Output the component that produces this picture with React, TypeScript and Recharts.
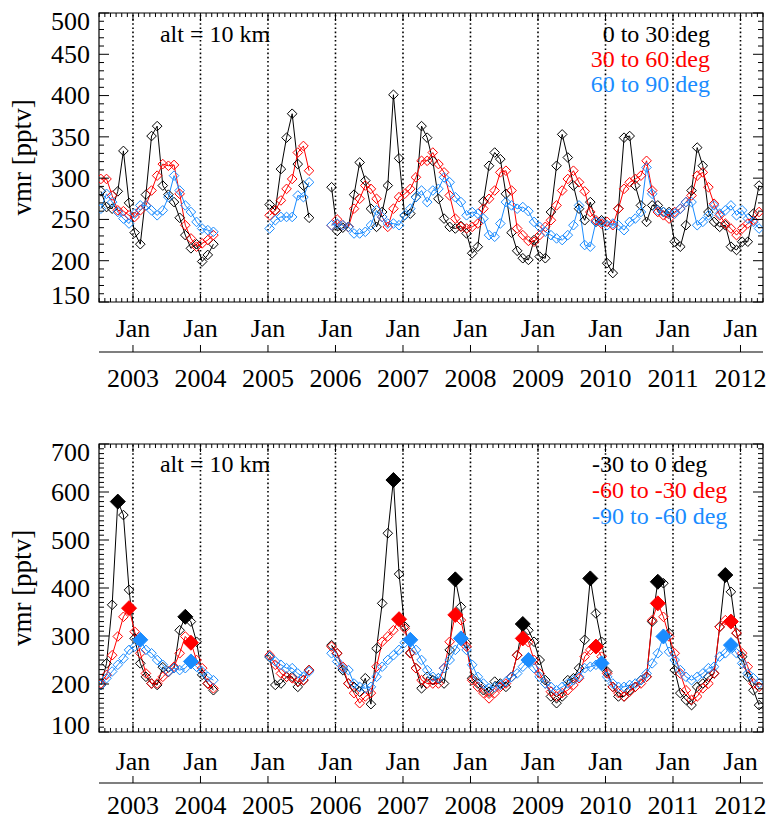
import React from "react";
import { ComposedChart, Line, XAxis, YAxis, ReferenceLine, ReferenceArea } from "recharts";

const FONT = '"Times New Roman", "Liberation Serif", Times, serif';
const BLACK = "#000000";
const RED = "#ff0000";
const BLUE = "#1a8cff";

// months are counted from Jan 2003; the first sample is Jul 2002
const FIRST_MONTH = -6;
const X_DOMAIN: [number, number] = [-6.04, 112];
const janMonths = [0, 12, 24, 36, 48, 60, 72, 84, 96, 108];
const yearLabels = ["2003", "2004", "2005", "2006", "2007", "2008", "2009", "2010", "2011", "2012"];
const monthLabel = "Jan";

const northTicks = [150, 200, 250, 300, 350, 400, 450, 500];
const southTicks = [100, 200, 300, 400, 500, 600, 700];

// northern hemisphere, monthly means (pptv), Jul 2002 .. Apr 2012
const north0to30 = [
  284, 265, 263, 284, 333, 270, 234, 220, 280, 351, 363, 291, 280, 271, 252, 231, 215, 220, 199, 207, 220,
  null, null, null, null, null, null, null, null, null,
  268, 261, 311, 349, 378, 317, 291, 252,
  null, null, null,
  289, 236, 240, 241, 280, 319, 297, 263, 241, 259, 291, 401, 324, 255, 257, 277, 363, 349, 321, 275, 251, 241, 239, 242, 233, 209, 217, 272, 315, 331, 323, 281, 234, 212, 203, 201,
  225, 205, 203, 259, 315, 353, 325, 291, 263, 249, 271, 247, 249, 197, 185, 263, 349, 351, 291, 267, 247, 267, 267, 259, 259, 223, 217, 243, 285, 337, 315, 259, 247, 241, 243, 217, 213, 223, 223, 257, 291,
];
const north30to60 = [
  299, 299, 279, 261, 260, 255, 253, 261, 267, 285, 303, 317, 315, 316, 281, 243, 227, 217, 221, 225, 231,
  null, null, null, null, null, null, null, null, null,
  255, 261, 273, 287, 299, 331, 339, 309,
  null, null, null,
  243, 250, 243, 241, 263, 275, 291, 287, 275, 253, 241, 263, 277, 281, 287, 301, 321, 321, 331, 317, 307, 279, 251, 241, 239, 241, 245, 263, 275, 285, 307, 309, 285, 239, 231, 224,
  223, 231, 241, 249, 267, 285, 299, 309, 295, 284, 259, 249, 245, 247, 243, 263, 287, 295, 299, 303, 321, 285, 259, 255, 251, 259, 263, 271, 279, 303, 307, 289, 269, 255, 245, 239, 231, 239, 245, 249, 259,
];
const north60to90 = [
  263, 281, 271, 259, 251, 245, 257, 267, 267, 261, 255, 261, 277, 303, 285, 267, 259, 247, 239, 237, 235,
  null, null, null, null, null, null, null, null, null,
  239, 249, 253, 253, 253, 279, 277, 295,
  null, null, null,
  243, 245, 243, 241, 233, 233, 235, 243, 261, 253, 245, 245, 243, 255, 263, 277, 285, 271, 285, 287, 301, 295, 277, 271, 255, 259, 257, 251, 231, 229, 245, 271, 267, 263, 265, 260,
  247, 241, 235, 231, 227, 225, 231, 243, 267, 219, 217, 247, 247, 243, 245, 243, 237, 247, 251, 259, 313, 281, 261, 259, 257, 257, 263, 271, 271, 243, 247, 255, 267, 257, 261, 267, 255, 261, 251, 247, 239,
];

// southern hemisphere
const south30to0 = [
  198, 243, 365, 580, 552, 396, 295, 243, 215, 201, 198, 235, 225, 233, 312, 340, 330, 288, 219, 201, 187,
  null, null, null, null, null, null, null, null, null,
  256, 198, 201, 215, 215, 194, 208, 229,
  null, null, null,
  281, 264, 229, 201, 194, 184, 212, 158, 274, 368, 514, 625, 429, 320, 265, 233, 191, 215, 208, 212, 201, 271, 418, 361, 285, 212, 201, 187, 184, 205, 201, 194, 215, 260, 325, 312,
  288, 250, 208, 174, 160, 174, 208, 212, 233, 292, 420, 347, 288, 226, 194, 174, 174, 187, 194, 208, 215, 330, 413, 410, 306, 229, 181, 167, 156, 194, 201, 215, 222, 319, 427, 392, 306, 257, 215, 187, 156,
];
const south60to30 = [
  201, 219, 260, 299, 340, 358, 309, 264, 222, 201, 201, 215, 226, 236, 264, 299, 286, 250, 233, 201, 191,
  null, null, null, null, null, null, null, null, null,
  260, 240, 222, 215, 212, 205, 208, 229,
  null, null, null,
  278, 264, 236, 201, 181, 160, 174, 181, 236, 288, 299, 312, 335, 316, 264, 233, 208, 201, 201, 201, 233, 288, 344, 333, 278, 208, 194, 181, 170, 181, 194, 201, 215, 260, 295, 287,
  250, 222, 201, 184, 174, 181, 187, 198, 212, 257, 271, 278, 257, 222, 194, 181, 174, 184, 194, 201, 215, 333, 368, 340, 299, 264, 222, 187, 167, 174, 191, 201, 222, 319, 333, 330, 306, 264, 236, 201, 194,
];
const south90to60 = [
  198, 212, 226, 240, 253, 271, 278, 292, 271, 264, 250, 240, 226, 233, 229, 233, 247, 236, 226, 215, 208,
  null, null, null, null, null, null, null, null, null,
  257, 247, 240, 233, 233, 222, 215, 226,
  null, null, null,
  264, 247, 233, 229, 201, 194, 191, 194, 215, 236, 250, 260, 271, 286, 292, 271, 250, 229, 215, 212, 233, 250, 271, 295, 271, 240, 215, 201, 191, 194, 198, 205, 215, 222, 236, 250,
  233, 215, 201, 194, 187, 194, 201, 208, 215, 233, 236, 240, 243, 215, 201, 194, 194, 198, 201, 208, 222, 243, 264, 299, 267, 250, 229, 215, 208, 215, 222, 233, 236, 257, 264, 281, 264, 243, 222, 212, 201,
];

// months whose value is drawn as a filled diamond (seasonal maxima)
const southPeaks30to0 = [-3, 9, 46, 57, 69, 81, 93, 105];
const southPeaks60to30 = [-1, 10, 47, 57, 69, 82, 93, 106];
const southPeaks90to60 = [1, 10, 49, 58, 70, 83, 94, 106];

const northLegend = ["0 to 30 deg", "30 to 60 deg", "60 to 90 deg"];
const southLegend = ["-30 to 0 deg", "-60 to -30 deg", "-90 to -60 deg"];
const altLabel = "alt = 10 km";
const yTitle = "vmr [pptv]";

type Num = number | null;

function buildRows(black: Num[], red: Num[], blue: Num[], peaks?: number[][]) {
  return black.map((_, i) => {
    const m = FIRST_MONTH + i;
    const pick = (arr: Num[], k: number) => (peaks && peaks[k].includes(m) ? arr[i] : null);
    return {
      x: m + 0.3,
      black: black[i],
      red: red[i],
      blue: blue[i],
      blackPk: pick(black, 0),
      redPk: pick(red, 1),
      bluePk: pick(blue, 2),
    };
  });
}

const northRows = buildRows(north0to30, north30to60, north60to90);
const southRows = buildRows(south30to0, south60to30, south90to60, [southPeaks30to0, southPeaks60to30, southPeaks90to60]);

const monthTicks: number[] = [];
for (let m = -6; m <= 112; m++) monthTicks.push(m);

function diamond(color: string, r: number, filled: boolean) {
  return (props: any) => {
    const { cx, cy, value, index } = props;
    if (value == null || cx == null || cy == null || isNaN(cy)) return <g key={`d${index}`} />;
    return (
      <path
        key={`d${index}`}
        d={`M${cx},${cy - r}L${cx + r},${cy}L${cx},${cy + r}L${cx - r},${cy}Z`}
        fill={filled ? color : "none"}
        stroke={color}
        strokeWidth={1}
      />
    );
  };
}

const W = 769;
const PLOT_W = 664;
const LEFT = 99;

type PanelProps = {
  height: number;
  marginTop: number;
  rows: any[];
  yDomain: [number, number];
  yMajors: number[];
  yStep: number;
  axisH: number;
  yearH: number;
  janDy: number;
  yearDy: number;
  peaks: boolean;
};

function Panel({ height, marginTop, rows, yDomain, yMajors, yStep, axisH, yearH, janDy, yearDy, peaks }: PanelProps) {
  const plotH = height - marginTop - axisH - yearH;
  const yTicks: number[] = [];
  for (let v = yDomain[0]; v <= yDomain[1]; v += yStep) yTicks.push(v);

  const YTick = (p: any) => {
    const { x, y, payload } = p;
    const v = payload.value;
    const major = yMajors.includes(v);
    const len = major ? 10 : 5;
    const ly = Math.min(Math.max(y, marginTop + 8), marginTop + plotH - 7);
    return (
      <g>
        <line x1={x} x2={x + len} y1={y} y2={y} stroke="#000" />
        <line x1={x + PLOT_W} x2={x + PLOT_W - len} y1={y} y2={y} stroke="#000" />
        {major && (
          <text x={x - 9} y={ly} dy="0.34em" textAnchor="end" fontSize={26} fontFamily={FONT} fill="#000">
            {v}
          </text>
        )}
      </g>
    );
  };

  const XTick = (p: any) => {
    const { x, y, payload } = p;
    const m = payload.value;
    const isJan = janMonths.includes(m);
    const len = isJan ? 8 : 4;
    return (
      <g>
        <line x1={x} x2={x} y1={y} y2={y - len} stroke="#000" />
        <line x1={x} x2={x} y1={y - plotH} y2={y - plotH + len} stroke="#000" />
        {isJan && (
          <text x={x} y={y + janDy} dy="0.34em" textAnchor="middle" fontSize={26} fontFamily={FONT} fill="#000">
            {monthLabel}
          </text>
        )}
      </g>
    );
  };

  const YearTick = (p: any) => {
    const { x, y, payload, index } = p;
    const i = janMonths.indexOf(payload.value);
    return (
      <g key={`yt${index}`}>
        <line x1={x} x2={x} y1={y} y2={y - 7} stroke="#000" />
        <text x={x} y={y + yearDy} dy="0.34em" textAnchor="middle" fontSize={26} fontFamily={FONT} fill="#000">
          {yearLabels[i]}
        </text>
      </g>
    );
  };

  const Title = () => {
    const cx = 22;
    const cy = marginTop + plotH / 2;
    return (
      <text x={cx} y={cy} dy="0.34em" transform={`rotate(-90 ${cx} ${cy})`} textAnchor="middle" fontSize={27} fontFamily={FONT} fill="#000">
        {yTitle}
      </text>
    );
  };

  return (
    <ComposedChart width={W} height={height} data={rows} margin={{ top: marginTop, right: W - LEFT - PLOT_W, bottom: 0, left: 0 }}>
      <XAxis
        xAxisId="m"
        dataKey="x"
        type="number"
        domain={X_DOMAIN}
        allowDataOverflow
        ticks={monthTicks}
        interval={0}
        tickSize={0}
        tickMargin={0}
        axisLine={false}
        tick={XTick}
        height={axisH}
      />
      <XAxis
        xAxisId="yr"
        dataKey="x"
        type="number"
        domain={X_DOMAIN}
        allowDataOverflow
        ticks={janMonths}
        interval={0}
        tickSize={0}
        tickMargin={0}
        axisLine={{ stroke: "#000", strokeWidth: 1.2 }}
        tick={YearTick}
        height={yearH}
      />
      <YAxis
        type="number"
        domain={yDomain}
        allowDataOverflow
        ticks={yTicks}
        interval={0}
        tickSize={0}
        tickMargin={0}
        axisLine={false}
        tick={YTick}
        width={LEFT}
        label={<Title />}
      />
      <ReferenceArea xAxisId="m" x1={X_DOMAIN[0]} x2={X_DOMAIN[1]} y1={yDomain[0]} y2={yDomain[1]} fill="none" stroke="#000" strokeWidth={1.2} fillOpacity={0} />
      {janMonths.map((m) => (
        <ReferenceLine key={m} xAxisId="m" x={m} stroke="#000" strokeWidth={1.6} strokeDasharray="1.6 2.6" />
      ))}
      <Line xAxisId="m" dataKey="black" stroke={BLACK} strokeWidth={1} dot={diamond(BLACK, 4.8, false)} activeDot={false} isAnimationActive={false} connectNulls={false} />
      <Line xAxisId="m" dataKey="red" stroke={RED} strokeWidth={1} dot={diamond(RED, 4.8, false)} activeDot={false} isAnimationActive={false} connectNulls={false} />
      <Line xAxisId="m" dataKey="blue" stroke={BLUE} strokeWidth={1} dot={diamond(BLUE, 4.8, false)} activeDot={false} isAnimationActive={false} connectNulls={false} />
      {peaks && (
        <Line xAxisId="m" dataKey="blackPk" stroke="none" dot={diamond(BLACK, 7.5, true)} activeDot={false} isAnimationActive={false} connectNulls={false} />
      )}
      {peaks && (
        <Line xAxisId="m" dataKey="redPk" stroke="none" dot={diamond(RED, 7.5, true)} activeDot={false} isAnimationActive={false} connectNulls={false} />
      )}
      {peaks && (
        <Line xAxisId="m" dataKey="bluePk" stroke="none" dot={diamond(BLUE, 7.5, true)} activeDot={false} isAnimationActive={false} connectNulls={false} />
      )}
    </ComposedChart>
  );
}

function Label({ text, x, cy, color, align = "left", size = 24 }: { text: string; x: number; cy: number; color: string; align?: "left" | "right" | "center"; size?: number }) {
  const style: React.CSSProperties = {
    position: "absolute",
    top: cy - size * 0.56,
    fontFamily: FONT,
    fontSize: size,
    lineHeight: 1,
    color,
    whiteSpace: "nowrap",
  };
  if (align === "left") style.left = x;
  if (align === "right") style.right = W - x;
  if (align === "center") {
    style.left = x;
    style.transform = "translateX(-50%)";
  }
  return <div style={style}>{text}</div>;
}

export default function App() {
  const colors = [BLACK, RED, BLUE];
  return (
    <div style={{ position: "absolute", left: 0, top: 0, width: W, height: 821, background: "#fff", overflow: "hidden" }}>
      <div style={{ position: "absolute", left: 0, top: 0 }}>
        <Panel height={392} marginTop={13} rows={northRows} yDomain={[150, 500]} yMajors={northTicks} yStep={10} axisH={50} yearH={40} janDy={26} yearDy={26} peaks={false} />
      </div>
      <div style={{ position: "absolute", left: 0, top: 392 }}>
        <Panel height={429} marginTop={52} rows={southRows} yDomain={[100, 700]} yMajors={southTicks} yStep={10} axisH={51} yearH={38} janDy={29} yearDy={22} peaks={true} />
      </div>
      <Label text={altLabel} x={215} cy={35} color={BLACK} align="center" />
      {northLegend.map((t, i) => (
        <Label key={t} text={t} x={710} cy={35 + i * 25} color={colors[i]} align="right" />
      ))}
      <Label text={altLabel} x={215} cy={465} color={BLACK} align="center" />
      {southLegend.map((t, i) => (
        <Label key={t} text={t} x={592} cy={465 + i * 26} color={colors[i]} align="left" />
      ))}
    </div>
  );
}
